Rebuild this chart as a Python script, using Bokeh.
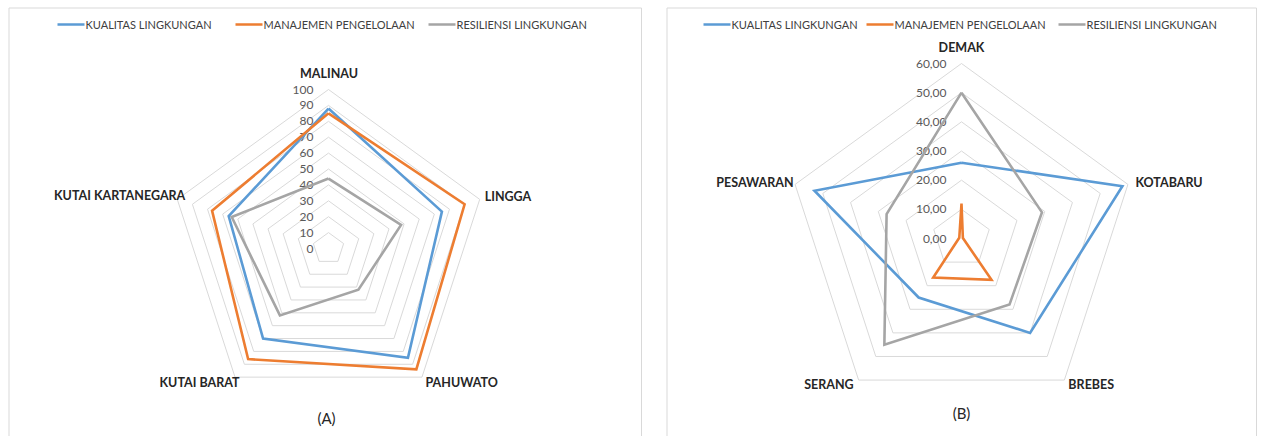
import numpy as np
from bokeh.plotting import figure
from bokeh.models import Range1d
from bokeh.core.properties import value
from bokeh.embed import file_html
from bokeh.resources import INLINE

# ---------------- data ----------------
series_names = ["KUALITAS LINGKUNGAN", "MANAJEMEN PENGELOLAAN", "RESILIENSI LINGKUNGAN"]
series_colors = ["#5B9BD5", "#ED7D31", "#A5A5A5"]

categories_a = ["MALINAU", "LINGGA", "PAHUWATO", "KUTAI BARAT", "KUTAI KARTANEGARA"]
kualitas_a = [88, 75, 85, 70, 66]
manajemen_a = [85, 90, 94, 86, 77]
resiliensi_a = [44, 48, 32, 52, 64]
ticks_a = [0, 10, 20, 30, 40, 50, 60, 70, 80, 90, 100]
tick_labels_a = ["0", "10", "20", "30", "40", "50", "60", "70", "80", "90", "100"]

categories_b = ["DEMAK", "KOTABARU", "BREBES", "SERANG", "PESAWARAN"]
kualitas_b = [26, 58, 40, 25, 53]
manajemen_b = [12, 0.5, 17.5, 16.5, 0.8]
resiliensi_b = [50, 29, 28, 45, 27]
ticks_b = [0, 10, 20, 30, 40, 50, 60]
tick_labels_b = ["0,00", "10,00", "20,00", "30,00", "40,00", "50,00", "60,00"]

FONT = "Lato"
W, H = 1263, 436

p = figure(width=W, height=H, x_range=Range1d(0, W), y_range=Range1d(H, 0),
           output_backend="svg", toolbar_location=None, min_border=0,
           x_axis_location=None, y_axis_location=None)
p.grid.visible = False
p.outline_line_color = None
p.background_fill_color = "white"
p.border_fill_color = "white"


def radar(cx, cy, radius_px, ticks, tick_labels, cats, series, label_offsets,
          legend_x, caption, cap_xy):
    n = len(cats)
    ang = np.deg2rad(90 - 72 * np.arange(n))
    vmax = ticks[-1]
    s = radius_px / vmax
    # grid rings
    xs, ys = [], []
    for t in ticks[1:]:
        r = t * s
        xs.append(list(cx + r * np.cos(ang)) + [cx + r * np.cos(ang[0])])
        ys.append(list(cy - r * np.sin(ang)) + [cy - r * np.sin(ang[0])])
    p.multi_line(xs, ys, line_color="#D9D9D9", line_width=1)
    # tick labels
    p.text(x=[cx - 15] * len(ticks), y=[cy - t * s for t in ticks], text=tick_labels,
           text_align="right", text_baseline="middle", text_font=value(FONT),
           text_font_size="12px", text_color="#595959")
    # series
    for vals, col in zip(series, series_colors):
        v = np.array(vals, dtype=float)
        x = list(cx + v * s * np.cos(ang)) + [cx + v[0] * s * np.cos(ang[0])]
        y = list(cy - v * s * np.sin(ang)) + [cy - v[0] * s * np.sin(ang[0])]
        p.line(x, y, line_color=col, line_width=2.6, line_join="miter")
    # category labels
    for i, c in enumerate(cats):
        vx = cx + radius_px * np.cos(ang[i])
        vy = cy - radius_px * np.sin(ang[i])
        dx, dy, al = label_offsets[i]
        p.text(x=[vx + dx], y=[vy + dy], text=[c], text_align=al, text_baseline="middle",
               text_font=value(FONT), text_font_style="bold", text_font_size="12.5px",
               text_color="#262626")
    # legend
    for lx0, name, col in zip(legend_x, series_names, series_colors):
        p.line([lx0, lx0 + 27], [24, 24], line_color=col, line_width=2.6)
        p.text(x=[lx0 + 28], y=[24], text=[name], text_align="left", text_baseline="middle",
               text_font=value(FONT), text_font_size="11px", text_color="#404040")
    # caption
    p.text(x=[cap_xy[0]], y=[cap_xy[1]], text=[caption], text_align="center",
           text_baseline="middle", text_font=value(FONT), text_font_size="15px",
           text_color="#262626")


# panel borders (top, left, right)
p.line([8.5, 8.5, 641, 641], [H, 7.5, 7.5, H], line_color="#D9D9D9", line_width=1)
p.line([666.5, 666.5, 1256, 1256], [H, 7.5, 7.5, H], line_color="#D9D9D9", line_width=1)

radar(328, 248, 159, ticks_a, tick_labels_a, categories_a,
      [kualitas_a, manajemen_a, resiliensi_a],
      [(0.5, -16, "center"), (5, -3, "left"), (3.5, 5, "left"),
       (4.5, 5, "right"), (8, -4, "right")],
      [57, 235, 428], "(A)", (326, 417))
radar(961, 238, 175, ticks_b, tick_labels_b, categories_b,
      [kualitas_b, manajemen_b, resiliensi_b],
      [(0, -16, "center"), (7.5, -2, "left"), (4, 4.5, "left"),
       (-5, 4.5, "right"), (-1.5, -2, "right")],
      [703, 866, 1058], "(B)", (961, 412))

open("out.html", "w").write(file_html(p, INLINE))
